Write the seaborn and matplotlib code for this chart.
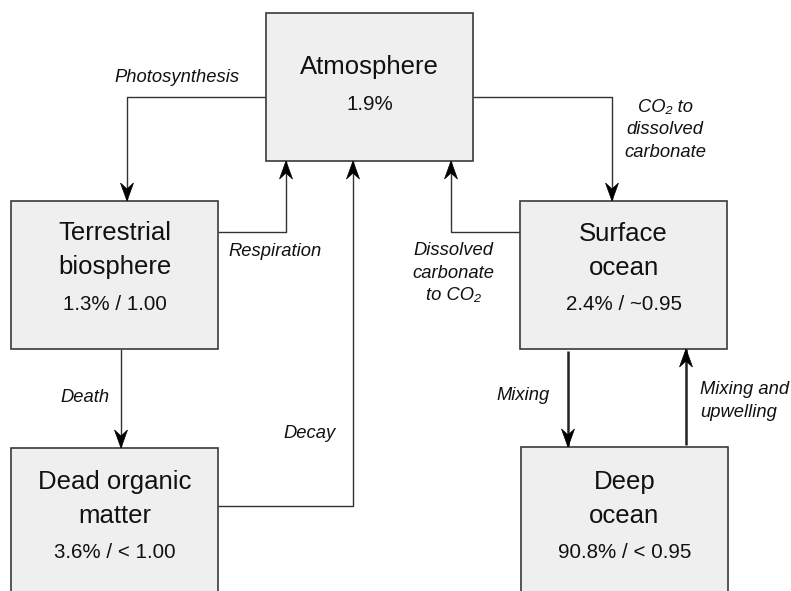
import numpy as np
import matplotlib
matplotlib.use("Agg")
import matplotlib.pyplot as plt
from matplotlib.patches import Rectangle, Polygon
import seaborn as sns

# --- content ---
node_names = ["Atmosphere", "Terrestrial\nbiosphere", "Surface\nocean",
              "Dead organic\nmatter", "Deep\nocean"]
node_values = ["1.9%", "1.3% / 1.00", "2.4% / ~0.95", "3.6% / < 1.00", "90.8% / < 0.95"]

flow_labels = ["Photosynthesis", "Respiration", "Decay", "CO₂ to\ndissolved\ncarbonate",
               "Dissolved\ncarbonate\nto CO₂", "Death", "Mixing", "Mixing and\nupwelling"]

# --- layout (pixel coords, origin top-left) ---
W, H = 791, 591
node_boxes = [(266, 13, 473, 161), (11, 201, 218, 349), (520, 201, 727, 349),
              (11, 448, 218, 600), (521, 447, 728, 600)]
node_title_y = [67, 233, 234, 482, 482]

flow_paths = [
    [(266, 97), (127, 97), (127, 201)],
    [(218, 232), (286, 232), (286, 161)],
    [(218, 506), (353, 506), (353, 161)],
    [(473, 97), (612, 97), (612, 201)],
    [(520, 232), (451, 232), (451, 161)],
    [(121, 349), (121, 448)],
    [(568, 351), (568, 447)],
    [(686, 445), (686, 349)],
]
flow_lw = [1.0, 1.0, 1.0, 1.0, 1.0, 1.0, 1.8, 1.8]
flow_label_pos = [(177, 78, "center"), (275, 252, "center"), (310, 434, "center"),
                  (665, 130, "center"), (453, 273, "center"), (85, 398, "center"),
                  (523, 396, "center"), (700, 401, "left")]

sns.set_style("white")
plt.rcParams['font.family'] = ['Liberation Sans', 'DejaVu Sans']

fig = plt.figure(figsize=(W / 100, H / 100), dpi=100)
ax = fig.add_axes([0, 0, 1, 1])
ax.set_xlim(0, W)
ax.set_ylim(H, 0)
ax.axis("off")

edge = "#3a3a3a"
fill = "#efefef"

# boxes
for (x0, y0, x1, y1), name, val, ty in zip(node_boxes, node_names, node_values, node_title_y):
    ax.add_patch(Rectangle((x0, y0), x1 - x0, y1 - y0, facecolor=fill,
                           edgecolor=edge, lw=1.2, zorder=2))
    cx = (x0 + x1) / 2
    lines = name.split("\n")
    for i, ln in enumerate(lines):
        ax.text(cx, ty + 34 * i, ln, ha="center", va="center", fontsize=18.5,
                color="#111111", zorder=3)
    vy = ty + 34 * (len(lines) - 1) + 37
    ax.text(cx, vy, val, ha="center", va="center", fontsize=14.8,
            color="#111111", zorder=3)


def arrow_head(ax, p_prev, p_tip, length=18, half_w=6.5, notch=6, color="black"):
    p_prev = np.array(p_prev, float)
    p_tip = np.array(p_tip, float)
    d = p_tip - p_prev
    d /= np.linalg.norm(d)
    n = np.array([-d[1], d[0]])
    back = p_tip - d * length
    pts = [p_tip, back + n * half_w, p_tip - d * (length - notch), back - n * half_w]
    ax.add_patch(Polygon(pts, closed=True, facecolor=color, edgecolor=color,
                         lw=0.5, zorder=4))


# connectors
for path, lw, label, (lx, ly, ha) in zip(flow_paths, flow_lw, flow_labels, flow_label_pos):
    xs = [p[0] for p in path]
    ys = [p[1] for p in path]
    ax.plot(xs, ys, color="#222222" if lw > 1.5 else "#333333", lw=lw,
            solid_capstyle="butt", zorder=1)
    arrow_head(ax, path[-2], path[-1])
    ax.text(lx, ly, label, ha=ha, va="center", fontsize=13.2, style="italic",
            color="#111111", linespacing=1.42, multialignment=ha)

fig.savefig("out.png", dpi=100)
